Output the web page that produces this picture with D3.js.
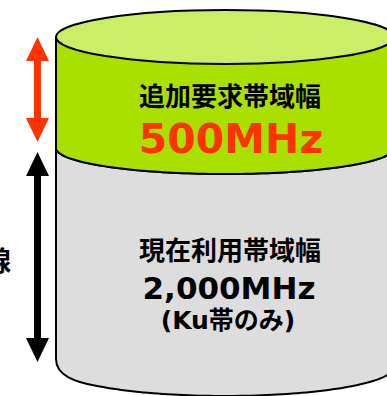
<!DOCTYPE html>
<html>
<head>
<meta charset="utf-8">
<script src="https://cdn.jsdelivr.net/npm/d3@7"></script>
<style>
  body { margin: 0; background: #fff; }
  svg { display: block; }
</style>
</head>
<body>
<div class="chart"></div>
<script>
// band values (MHz), stacked from the bottom
const segNames = ["current", "additional"];
const segValues = [2000, 500];
const segTitles = ["現在利用帯域幅", "追加要求帯域幅"];
const segAmounts = ["2,000MHz", "500MHz"];
const segNotes = ["(Ku帯のみ)", ""];
const sideLabel = "線";

const w = 387, h = 396;

const svg = d3.select("div.chart")
    .append("svg")
    .attr("width", w)
    .attr("height", h);

// cumulative stops: 0, 2000, 2500
const stops = [0];
segValues.forEach(v => stops.push(stops[stops.length - 1] + v));

// schematic (not proportional) y scale, piecewise
const y = d3.scaleLinear()
    .domain(stops)
    .range([367, 148, 37]);

const cx = 225, rx = 169, ry = 27;
const x0 = cx - rx, x1 = cx + rx;

// points on lower half of an ellipse
function lowerArc(cy, ryy, from, to) {
    return d3.range(0, 101).map(i => {
        const t = Math.PI - (Math.PI * i / 100);
        const px = cx + rx * Math.cos(t);
        return [px, cy + ryy * Math.sin(t)];
    }).filter(p => p[0] >= from && p[0] <= to);
}
const line = d3.line();

// gray body (bottom segment)
const yMid = y(stops[1]), yBot = y(stops[0]);
const botPts = lowerArc(yBot, 29, x0 + 40, x1);
let gray = "M" + x0 + "," + yMid + " L" + x0 + "," + (yBot - 8) +
    " C" + x0 + "," + (yBot + 8) + " " + (x0 + 18) + "," + (botPts[0][1] - 4) + " " + botPts[0][0] + "," + botPts[0][1] +
    line(botPts).replace("M", "L") +
    " L" + x1 + "," + yMid +
    line(lowerArc(yMid, 26, x0, x1).reverse()).replace("M", "L") + "Z";
svg.append("path")
    .attr("d", gray)
    .style("fill", "#dddddd")
    .style("stroke", "black")
    .style("stroke-width", 2);

// green band (top segment)
const yTop = y(stops[2]);
let green = "M" + x0 + "," + yTop + " L" + x0 + "," + yMid +
    line(lowerArc(yMid, 26, x0, x1)).replace("M", "L") +
    " L" + x1 + "," + yTop + "Z";
svg.append("path")
    .attr("d", green)
    .style("fill", "#aae000")
    .style("stroke", "black")
    .style("stroke-width", 2);

svg.append("ellipse")
    .attr("cx", cx).attr("cy", yTop)
    .attr("rx", rx).attr("ry", ry)
    .style("fill", "#ccee66")
    .style("stroke", "black")
    .style("stroke-width", 2);

// double arrows on the left
function dblArrow(ya, yb, color) {
    const ax = 37.5, hw = 11.5, hl = 24, sw = 3.5;
    const d = [
        [ax, ya], [ax + hw, ya + hl], [ax + sw, ya + hl], [ax + sw, yb - hl],
        [ax + hw, yb - hl], [ax, yb], [ax - hw, yb - hl], [ax - sw, yb - hl],
        [ax - sw, ya + hl], [ax - hw, ya + hl]
    ];
    svg.append("path")
        .attr("d", line(d) + "Z")
        .style("fill", color);
}
dblArrow(y(stops[2]), y(stops[1]) - 6, "#ff3300");
dblArrow(y(stops[1]) + 4, y(stops[0]) - 5, "black");

// labels
const tx = 230;
const cjk = "'Noto Sans CJK JP', sans-serif";
const lat = "'DejaVu Sans', 'Noto Sans CJK JP', sans-serif";

svg.append("text")
    .attr("x", tx).attr("y", 106)
    .attr("text-anchor", "middle")
    .attr("font-family", cjk).attr("font-weight", "bold")
    .attr("font-size", "26px")
    .text(segTitles[1]);
svg.append("text")
    .attr("x", tx + 1).attr("y", 153)
    .attr("text-anchor", "middle")
    .attr("font-family", lat).attr("font-weight", "bold")
    .attr("font-size", "41px")
    .attr("fill", "#ff3300")
    .text(segAmounts[1]);

svg.append("text")
    .attr("x", tx).attr("y", 260)
    .attr("text-anchor", "middle")
    .attr("font-family", cjk).attr("font-weight", "bold")
    .attr("font-size", "26px")
    .text(segTitles[0]);
svg.append("text")
    .attr("x", tx - 1).attr("y", 299)
    .attr("text-anchor", "middle")
    .attr("font-family", lat).attr("font-weight", "bold")
    .attr("font-size", "31px")
    .text(segAmounts[0]);
svg.append("text")
    .attr("x", tx - 2).attr("y", 329)
    .attr("text-anchor", "middle")
    .attr("font-family", lat).attr("font-weight", "bold")
    .attr("font-size", "25px")
    .text(segNotes[0]);

svg.append("text")
    .attr("x", 11).attr("y", 271)
    .attr("text-anchor", "end")
    .attr("font-family", cjk).attr("font-weight", "bold")
    .attr("font-size", "27px")
    .text(sideLabel);
</script>
</body>
</html>
